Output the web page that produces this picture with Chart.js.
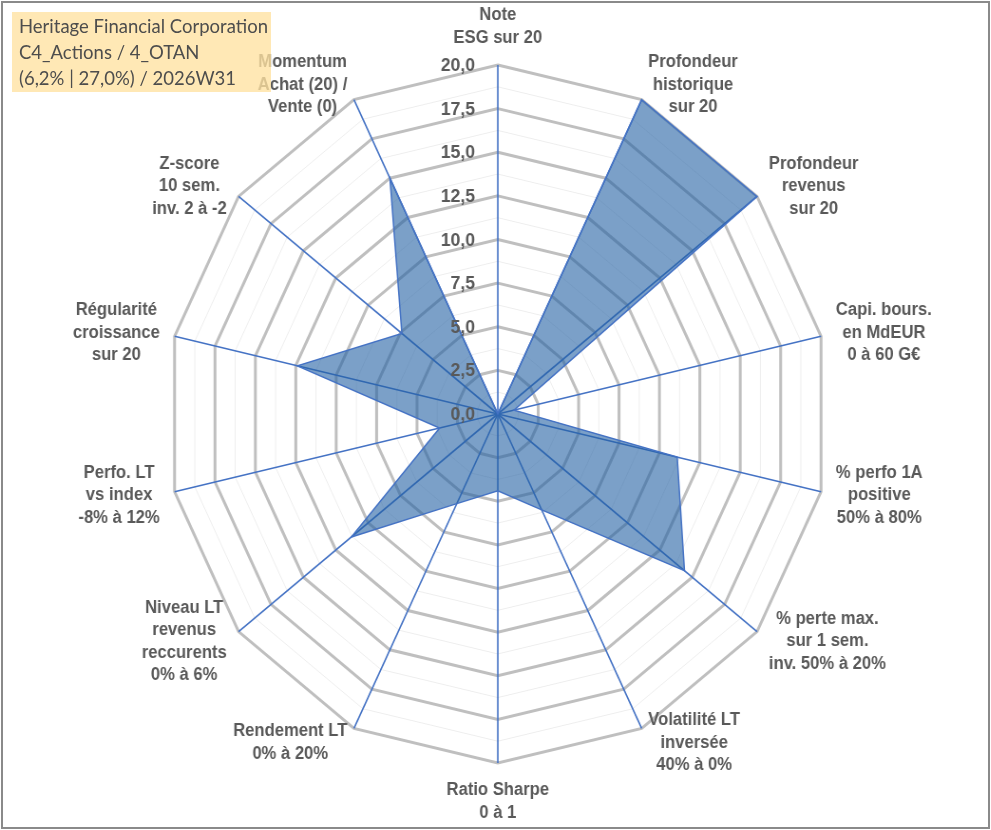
<!DOCTYPE html>
<html lang="fr">
<head>
<meta charset="utf-8">
<title>Heritage Financial Corporation - radar</title>
<script src="https://cdn.jsdelivr.net/npm/chart.js@4.4.1/dist/chart.umd.min.js"></script>
<style>
html, body { margin: 0; padding: 0; background: #fff; }
#page { position: relative; width: 991px; height: 830px; overflow: hidden; background: #fff; }
#wrap { position: absolute; left: 0; top: 0; width: 1048px; height: 830px; transform: scaleX(0.95); transform-origin: 0 0; }
#frame { position: absolute; left: 1px; top: 1px; width: 985px; height: 824px; border: 2px solid #8a8a8a; pointer-events: none; }
#title { position: absolute; left: 12px; top: 12px; width: 259px; height: 80px; box-sizing: border-box; padding: 1px 0 0 7px;
	background: rgba(255, 226, 160, 0.78); color: #4d4d4d; font: 18.5px Lato, "Open Sans", sans-serif; line-height: 26px; white-space: nowrap; }
</style>
</head>
<body>
<div id="page">
	<div id="wrap"><canvas id="myRadarChart"></canvas></div>
	<div id="title">Heritage Financial Corporation<br>C4_Actions / 4_OTAN<br>(6,2% | 27,0%) / 2026W31</div>
	<div id="frame"></div>
</div>
<script>
// axes, dans le sens horaire depuis le haut
var labels = [
	['Note', 'ESG sur 20'],
	['Profondeur', 'historique', 'sur 20'],
	['Profondeur', 'revenus', 'sur 20'],
	['Capi. bours.', 'en MdEUR', '0 à 60 G€'],
	['% perfo 1A', 'positive', '50% à 80%'],
	['% perte max.', 'sur 1 sem.', 'inv. 50% à 20%'],
	['Volatilité LT', 'inversée', '40% à 0%'],
	['Ratio Sharpe', '0 à 1'],
	['Rendement LT', '0% à 20%'],
	['Niveau LT', 'revenus', 'reccurents', '0% à 6%'],
	['Perfo. LT', 'vs index', '-8% à 12%'],
	['Régularité', 'croissance', 'sur 20'],
	['Z-score', '10 sem.', 'inv. 2 à -2'],
	['Momentum', 'Achat (20) /', 'Vente (0)'],
];
var scores = [0, 20, 20, 1.0, 11.1, 14.4, 6.1, 4.4, 5.7, 11.3, 3.6, 12.4, 7.4, 15.0];
var tickValues = [0, 2.5, 5, 7.5, 10, 12.5, 15, 17.5, 20];
var tickLabels = ['0,0', '2,5', '5,0', '7,5', '10,0', '12,5', '15,0', '17,5', '20,0'];

var lineH = 22.5;

// graduations a gauche de l'axe vertical et libelles centres facon Excel
var labelPlugin = {
	id: 'excelLabels',
	afterDraw: function (chart) {
		var scale = chart.scales.r;
		var c = chart.ctx;
		c.save();
		c.fillStyle = '#595959';
		c.textBaseline = 'middle';
		c.font = 'bold 18.5px "Liberation Sans", Arial, sans-serif';
		c.textAlign = 'right';
		for (var t = 0; t < tickValues.length; t++) {
			var d = scale.getDistanceFromCenterForValue(tickValues[t]);
			c.fillText(tickLabels[t], scale.xCenter - 24, scale.yCenter - d + 1);
		}
		c.font = 'bold 17.5px "Liberation Sans", Arial, sans-serif';
		c.textAlign = 'center';
		for (var i = 0; i < labels.length; i++) {
			var lines = labels[i];
			var angle = scale.getIndexAngle(i);
			var p = scale.getPointPosition(i, scale.drawingArea + 16);
			var w = 0;
			for (var k = 0; k < lines.length; k++) {
				w = Math.max(w, c.measureText(lines[k]).width);
			}
			var h = lines.length * lineH;
			var s = Math.sin(angle);
			var cx = p.x;
			var top;
			if (Math.abs(s) < 0.01) {
				top = Math.cos(angle) > 0 ? p.y - h : p.y;
			} else {
				cx = s > 0 ? p.x + w / 2 : p.x - w / 2;
				top = p.y - h / 2;
			}
			for (var k2 = 0; k2 < lines.length; k2++) {
				c.fillText(lines[k2], cx, top + lineH * (k2 + 0.5));
			}
		}
		c.restore();
	},
};

var ctx = document.getElementById('myRadarChart');
var myRadarChart = new Chart(ctx, {
	type: 'radar',
	data: {
		labels: labels,
		datasets: [
			{
				label: 'Note',
				data: scores,
				backgroundColor: 'rgba(35,97,163,0.6)',
				borderColor: '#4472C4',
				borderWidth: 1.5,
				pointRadius: 0,
				pointHoverRadius: 0,
				tension: 0,
				fill: true,
			},
		],
	},
	options: {
		responsive: true,
		maintainAspectRatio: false,
		animation: false,
		layout: {
			padding: { top: 65, bottom: 67, left: 0, right: 0 },
		},
		plugins: {
			legend: { display: false },
			tooltip: { enabled: false },
		},
		scales: {
			r: {
				min: 0,
				max: 20,
				ticks: { stepSize: 1.25, display: false },
				pointLabels: { display: false },
				grid: {
					color: function (c) { return c.index % 2 === 0 ? '#BFBFBF' : '#EEEEEE'; },
					lineWidth: function (c) { return c.index % 2 === 0 ? 3 : 1; },
				},
				angleLines: {
					color: '#4472C4',
					lineWidth: 1.6,
				},
			},
		},
	},
	plugins: [labelPlugin],
});
</script>
</body>
</html>
